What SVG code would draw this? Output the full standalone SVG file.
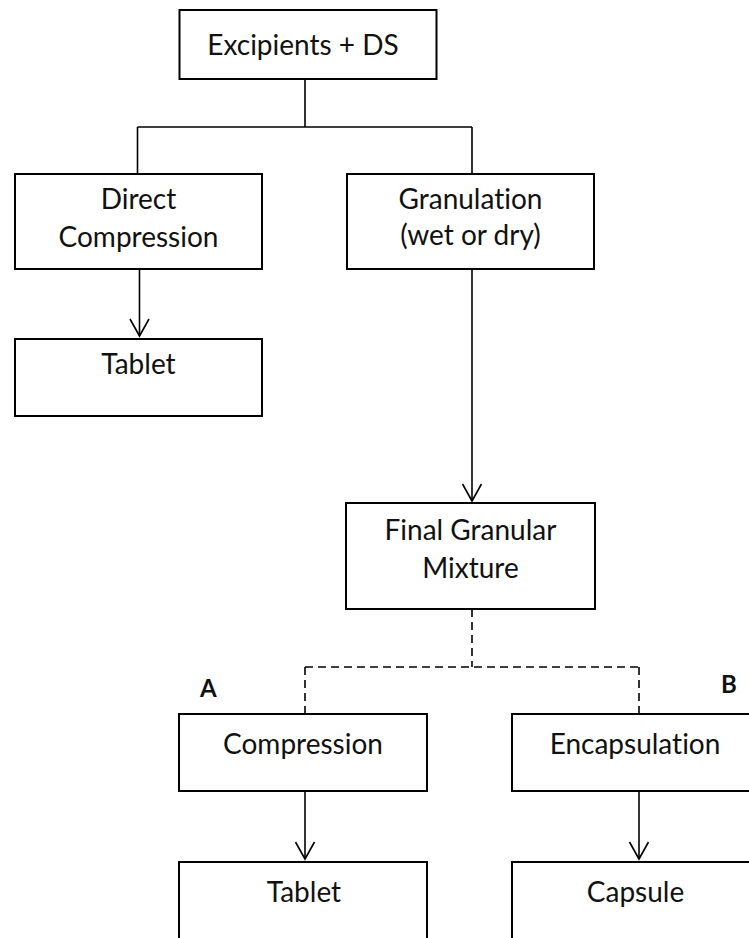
<svg xmlns="http://www.w3.org/2000/svg" width="749" height="938" viewBox="0 0 749 938">
  <style>
    .box { fill: #ffffff; stroke: #000000; stroke-width: 2; }
    .lbl { font-family: Lato, "Liberation Sans", sans-serif; font-size: 28px; fill: #111111; text-anchor: middle; font-variant-ligatures: none; }
    .tag { font-family: Lato, "Liberation Sans", sans-serif; font-size: 24px; font-weight: bold; fill: #111111; }
    .wire { fill: none; stroke: #000000; stroke-width: 1.6; }
    .dash { fill: none; stroke: #000000; stroke-width: 1.6; stroke-dasharray: 8 5; }
  </style>
  <defs>
    <marker id="vee" markerUnits="userSpaceOnUse" viewBox="-19 -11 21 22" refX="0" refY="0" markerWidth="21" markerHeight="22" orient="auto">
      <path d="M-17,-9.5 L0,0 L-17,9.5" fill="none" stroke="#000000" stroke-width="1.6"/>
    </marker>
  </defs>

  <rect width="749" height="938" fill="#ffffff"/>

  <!-- connectors -->
  <g id="connectors">
    <path class="wire" d="M305,79 V127 M137.5,127 H472 M137.5,127 V174 M472,127 V174"/>
    <path class="wire" d="M139.5,269 V336" marker-end="url(#vee)"/>
    <path class="wire" d="M472,269 V501" marker-end="url(#vee)"/>
    <path class="dash" d="M472,609 V667 M305,667 H639 M305,667 V714 M639,667 V714"/>
    <path class="wire" d="M305,791 V859" marker-end="url(#vee)"/>
    <path class="wire" d="M639,791 V859" marker-end="url(#vee)"/>
  </g>

  <!-- nodes -->
  <g id="start">
    <rect class="box" x="179.5" y="10" width="257" height="69"/>
    <text class="lbl" x="303" y="55">Excipients + DS</text>
  </g>
  <g id="direct">
    <rect class="box" x="15" y="174" width="247" height="95"/>
    <text class="lbl" x="138.5" y="209">Direct</text>
    <text class="lbl" x="138.5" y="247">Compression</text>
  </g>
  <g id="granulation">
    <rect class="box" x="347" y="174" width="247" height="95"/>
    <text class="lbl" x="470.5" y="209">Granulation</text>
    <text class="lbl" x="470.5" y="245">(wet or dry)</text>
  </g>
  <g id="tablet-direct">
    <rect class="box" x="15" y="339" width="247" height="77"/>
    <text class="lbl" x="138.5" y="374">Tablet</text>
  </g>
  <g id="mixture">
    <rect class="box" x="346" y="503" width="249" height="106"/>
    <text class="lbl" x="470.5" y="540">Final Granular</text>
    <text class="lbl" x="470.5" y="578">Mixture</text>
  </g>
  <g id="compression">
    <rect class="box" x="179" y="714" width="248" height="77"/>
    <text class="lbl" x="303" y="754">Compression</text>
  </g>
  <g id="encapsulation">
    <rect class="box" x="512" y="714" width="248" height="77"/>
    <text class="lbl" x="635" y="754">Encapsulation</text>
  </g>
  <g id="tablet-granular">
    <rect class="box" x="179" y="862" width="248" height="80"/>
    <text class="lbl" x="304" y="902">Tablet</text>
  </g>
  <g id="capsule">
    <rect class="box" x="512" y="862" width="248" height="80"/>
    <text class="lbl" x="635.5" y="902">Capsule</text>
  </g>

  <g id="route-labels">
    <text class="tag" x="200" y="697">A</text>
    <text class="tag" x="721" y="693">B</text>
  </g>
</svg>
